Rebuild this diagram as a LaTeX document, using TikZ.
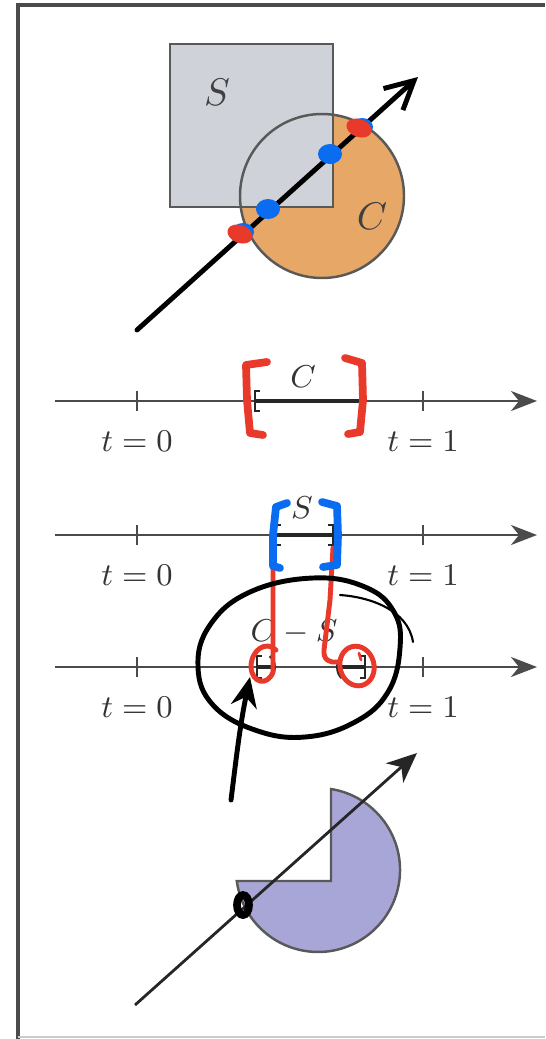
\documentclass[tikz,border=0pt]{standalone}
\usetikzlibrary{arrows.meta}

\definecolor{sqgray}{RGB}{207,210,216}
\definecolor{circorange}{RGB}{231,167,102}
\definecolor{pacviolet}{RGB}{168,166,214}
\definecolor{penred}{RGB}{232,57,42}
\definecolor{penblue}{RGB}{10,108,240}
\definecolor{inkgray}{RGB}{75,75,75}

\tikzset{
  numline/.style={draw=inkgray, line width=0.75pt,
    -{Stealth[length=2.6mm,width=2mm,inset=0.8mm]}},
  tickmark/.style={draw=inkgray, line width=0.75pt},
  interval/.style={draw=black!85, line width=1.3pt},
  brack/.style={draw=black!85, line width=0.8pt},
  lbl/.style={text=black!80, font=\fontsize{9.5}{11}\selectfont},
  biglbl/.style={text=black!75, font=\fontsize{11}{13}\selectfont},
  pen/.style={line width=1.4pt, line cap=round, line join=round},
  thickpen/.style={line width=2.2pt, line cap=round, line join=round}
}

\begin{document}
\begin{tikzpicture}[x=0.01cm,y=-0.01cm]
\useasboundingbox (0,0) rectangle (545,1039);

% Frame
\draw[inkgray, line width=0.9pt] (18,1039) -- (18,5) -- (545,5);
\draw[black!20, line width=0.5pt] (18,1037) -- (545,1037);

% Top picture: circle C and square S
\fill[circorange] (322,196) circle (82);
\fill[sqgray] (170,44) rectangle (333,207);
\draw[black!65, line width=0.7pt] (322,196) circle (82);
\draw[black!65, line width=0.7pt] (170,44) rectangle (333,207);
\node[biglbl] (labS) at (217,92) {$S$};
\node[biglbl] (labC) at (372,216) {$C$};

% Ray through the top picture
\draw[pen, -{Straight Barb[length=2.8mm,width=2.9mm]}] (137,330) -- (418,77);

% Points on the ray
\fill[penblue] (243,232) ellipse (11 and 9);
\fill[penred, rotate around={-20:(240,234)}] (240,234) ellipse (13 and 9);
\fill[penblue] (268,209) ellipse (12 and 10);
\fill[penblue] (330,154) ellipse (12 and 10);
\fill[penblue] (362,127) ellipse (11 and 9);
\fill[penred, rotate around={-20:(359,128)}] (359,128) ellipse (13 and 9);

% Number lines
\foreach \y/\n in {401/a,535/b,667/c}{
  \draw[numline] (55,\y) -- (537,\y);
  \foreach \x in {137,423}
    \draw[tickmark] (\x,\y-10) -- (\x,\y+10);
  \node[lbl] (tzero\n) at (137,\y+40) {$t=0$};
  \node[lbl] (tone\n) at (423,\y+40) {$t=1$};
}

% Interval C
\draw[interval] (255,401) -- (365,401);
\draw[brack] (260,391) -- (255,391) -- (255,411) -- (260,411);
\draw[brack] (360,391) -- (365,391) -- (365,411) -- (360,411);
\node[lbl] (labCline) at (303,377) {$C$};

% Interval S
\draw[interval] (276,535) -- (333,535);
\draw[brack] (281,525) -- (276,525) -- (276,545) -- (281,545);
\draw[brack] (328,525) -- (333,525) -- (333,545) -- (328,545);
\node[lbl] (labSline) at (302,508) {$S$};

% Intervals of C - S
\draw[interval] (257,667) -- (274,667);
\draw[brack] (262,656) -- (257,656) -- (257,678) -- (262,678);
\draw[brack] (270,656) .. controls (276,661) and (276,673) .. (270,678);
\draw[interval] (338,667) -- (365,667);
\draw[brack] (342,656) .. controls (336,661) and (336,673) .. (342,678);
\draw[brack] (360,656) -- (365,656) -- (365,678) -- (360,678);
\node[lbl] (labCS) at (294,632) {$C-S$};

% Bottom picture: circle with a notch
\filldraw[fill=pacviolet, draw=black!65, line width=0.7pt]
  (238,881) -- (331,881) -- (331,789)
  arc[start angle=-80.9, end angle=172.2, radius=82] -- cycle;
\draw[black!85, line width=0.8pt,
  -{Stealth[length=3mm,width=2.6mm,inset=0.9mm]}] (135,1005) -- (417,753);

% Red pen marks
\draw[penred, thickpen] (267,362) -- (246,365) -- (247,400) -- (250,433) -- (263,435);
\draw[penred, thickpen] (345,358) -- (362,363) -- (363,400) -- (360,432) -- (348,434);
\draw[penred, pen] (273,548) -- (273,672)
  .. controls (268,686) and (252,684) .. (251,667)
  .. controls (251,650) and (266,640) .. (276,650);
\draw[penred, pen] (333,548) -- (330,600) -- (324,650)
  .. controls (323,660) and (330,663) .. (337,662);
\draw[penred, pen, rotate around={15:(357,666)}] (357,666) ellipse (17 and 20);
\draw[penred, line width=0.8pt, line cap=round] (359,653) -- (361,660);

% Blue pen marks
\draw[penblue, thickpen] (287,503) -- (276,507) -- (273,535) -- (273,566) -- (280,568);
\draw[penblue, thickpen] (322,502) -- (337,506) -- (338,535) -- (337,565) -- (323,567);

% Black pen marks
\draw[pen] plot[smooth cycle, tension=0.7] coordinates {
  (198,667) (210,625) (250,592) (313,578) (365,587) (394,612)
  (400,648) (388,692) (355,722) (305,737) (255,730) (213,705)};
\draw[line width=0.6pt, line cap=round] (340,595)
  .. controls (370,597) and (408,610) .. (413,642);
\draw[pen, -{Stealth[length=3mm,width=2.6mm]}] (231,800)
  .. controls (236,760) and (240,725) .. (250,677);
\draw[line width=2.2pt] (243,905) ellipse (6 and 10);

\end{tikzpicture}
\end{document}
